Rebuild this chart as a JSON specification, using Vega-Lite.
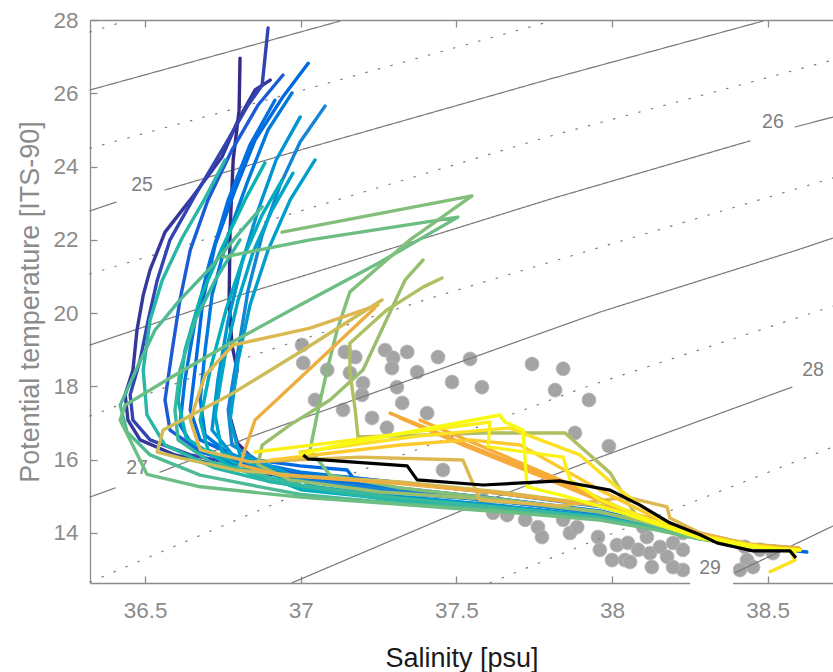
{
"$schema":"https://vega.github.io/schema/vega-lite/v6.json",
"width":743,"height":563,
"autosize":{"type":"none"},
"padding":{"left":90,"top":20,"right":0,"bottom":89},
"background":"white",
"config":{"view":{"stroke":null},
"axis":{"grid":false,"domainColor":"#8c8c8c","tickColor":"#8c8c8c","labelColor":"#8c8c8c","titleColor":"#8c8c8c","labelFont":"Liberation Sans","titleFont":"Liberation Sans","labelFontSize":22.5,"titleFontSize":27,"titleFontWeight":"normal","tickSize":-7,"domainWidth":1.3,"tickWidth":1.3}},
"resolve":{"axis":{"x":"independent","y":"independent"}},
"datasets":{
"dots":[{"S":37.004,"T":19.13},{"S":37.008,"T":18.64},{"S":37.085,"T":18.45},{"S":37.046,"T":17.63},{"S":37.142,"T":18.94},{"S":37.175,"T":18.8},{"S":37.158,"T":18.37},{"S":37.2,"T":18.09},{"S":37.197,"T":17.77},{"S":37.136,"T":17.36},{"S":37.271,"T":18.99},{"S":37.297,"T":18.78},{"S":37.342,"T":18.94},{"S":37.293,"T":18.5},{"S":37.309,"T":17.98},{"S":37.374,"T":18.39},{"S":37.326,"T":17.55},{"S":37.229,"T":17.14},{"S":37.406,"T":17.27},{"S":37.277,"T":16.87},{"S":37.441,"T":18.8},{"S":37.544,"T":18.75},{"S":37.486,"T":18.12},{"S":37.582,"T":17.98},{"S":37.743,"T":18.61},{"S":37.843,"T":18.48},{"S":37.817,"T":17.9},{"S":37.926,"T":17.63},{"S":37.881,"T":16.73},{"S":37.99,"T":16.37},{"S":37.457,"T":15.72},{"S":37.618,"T":14.55},{"S":37.663,"T":14.49},{"S":37.721,"T":14.36},{"S":37.762,"T":14.16},{"S":37.775,"T":13.89},{"S":37.843,"T":14.36},{"S":37.865,"T":14.0},{"S":37.888,"T":14.16},{"S":37.955,"T":13.89},{"S":37.961,"T":13.54},{"S":38.016,"T":13.67},{"S":38.051,"T":13.73},{"S":38.042,"T":13.26},{"S":38.084,"T":13.54},{"S":38.112,"T":13.89},{"S":38.122,"T":13.45},{"S":38.154,"T":13.62},{"S":38.177,"T":13.35},{"S":38.196,"T":13.73},{"S":38.228,"T":14.0},{"S":38.228,"T":13.54},{"S":38.228,"T":12.99},{"S":38.196,"T":13.07},{"S":38.128,"T":13.07},{"S":38.058,"T":13.21},{"S":38.1,"T":14.16},{"S":38.427,"T":13.62},{"S":38.434,"T":13.26},{"S":38.475,"T":13.54},{"S":38.517,"T":13.45},{"S":38.453,"T":13.07},{"S":37.586,"T":14.9},{"S":38.0,"T":13.26},{"S":38.411,"T":12.99}],
"iso":[
{"id":"s23.5","k":"dot","S":36.323,"T":27.67},{"id":"s23.5","k":"dot","S":36.436,"T":27.97},
{"id":"s24","k":"solid","S":36.323,"T":26.09},{"id":"s24","k":"solid","S":36.998,"T":27.67},{"id":"s24","k":"solid","S":37.126,"T":27.97},
{"id":"s24.5","k":"dot","S":36.323,"T":24.5},{"id":"s24.5","k":"dot","S":37.008,"T":26.09},{"id":"s24.5","k":"dot","S":37.791,"T":27.94},
{"id":"s25a","k":"solid","S":36.323,"T":22.79},{"id":"s25a","k":"solid","S":36.407,"T":23.03},
{"id":"s25b","k":"solid","S":36.564,"T":23.36},{"id":"s25b","k":"solid","S":36.998,"T":24.45},{"id":"s25b","k":"solid","S":37.801,"T":26.39},{"id":"s25b","k":"solid","S":38.485,"T":27.97},
{"id":"s25.5","k":"dot","S":36.323,"T":21.07},{"id":"s25.5","k":"dot","S":37.008,"T":22.81},{"id":"s25.5","k":"dot","S":37.801,"T":24.83},{"id":"s25.5","k":"dot","S":38.71,"T":26.91},
{"id":"s26a","k":"solid","S":36.323,"T":19.13},{"id":"s26a","k":"solid","S":36.773,"T":20.41},{"id":"s26a","k":"solid","S":36.998,"T":20.99},{"id":"s26a","k":"solid","S":37.801,"T":23.11},{"id":"s26a","k":"solid","S":38.443,"T":24.7},
{"id":"s26b","k":"solid","S":38.588,"T":25.08},{"id":"s26b","k":"solid","S":38.71,"T":25.35},
{"id":"s26.5","k":"dot","S":36.323,"T":17.19},{"id":"s26.5","k":"dot","S":36.773,"T":18.64},{"id":"s26.5","k":"dot","S":36.998,"T":19.27},{"id":"s26.5","k":"dot","S":37.448,"T":20.49},{"id":"s26.5","k":"dot","S":37.801,"T":21.39},{"id":"s26.5","k":"dot","S":38.71,"T":23.69},
{"id":"s27a","k":"solid","S":36.323,"T":14.98},{"id":"s27a","k":"solid","S":36.404,"T":15.23},
{"id":"s27b","k":"solid","S":36.548,"T":15.66},{"id":"s27b","k":"solid","S":36.837,"T":16.62},{"id":"s27b","k":"solid","S":37.962,"T":20.03},{"id":"s27b","k":"solid","S":38.594,"T":21.72},{"id":"s27b","k":"solid","S":38.71,"T":22.05},
{"id":"s27.5","k":"dot","S":36.323,"T":12.66},{"id":"s27.5","k":"dot","S":36.998,"T":15.09},{"id":"s27.5","k":"dot","S":37.907,"T":17.96},{"id":"s27.5","k":"dot","S":38.71,"T":20.19},
{"id":"s28","k":"solid","S":36.972,"T":12.64},{"id":"s28","k":"solid","S":37.522,"T":14.63},{"id":"s28","k":"solid","S":37.962,"T":16.07},{"id":"s28","k":"solid","S":38.578,"T":17.98},
{"id":"s28.5","k":"dot","S":37.608,"T":12.64},{"id":"s28.5","k":"dot","S":37.907,"T":13.67},{"id":"s28.5","k":"dot","S":38.71,"T":16.35},
{"id":"s29","k":"solid","S":38.395,"T":12.91},{"id":"s29","k":"solid","S":38.71,"T":14.19}],
"labs":[{"S":36.49,"T":23.5,"txt":"25"},{"S":38.517,"T":25.21,"txt":"26"},{"S":36.474,"T":15.77,"txt":"27"},{"S":38.646,"T":18.45,"txt":"28"},{"S":38.315,"T":13.05,"txt":"29"}],
"box":[{"S1":38.251,"S2":38.389,"T1":12.45,"T2":14.08}],
"prof":[
{"p":"p01","t":0,"S":36.805,"T":26.96},{"p":"p01","t":0,"S":36.802,"T":25.54},{"p":"p01","t":0,"S":36.783,"T":24.18},{"p":"p01","t":0,"S":36.773,"T":22.27},{"p":"p01","t":0,"S":36.77,"T":20.36},{"p":"p01","t":0,"S":36.779,"T":19.13},{"p":"p01","t":0,"S":36.796,"T":18.45},{"p":"p01","t":0,"S":36.783,"T":17.9},{"p":"p01","t":0,"S":36.773,"T":17.17},{"p":"p01","t":0,"S":36.796,"T":16.46},{"p":"p01","t":0,"S":36.86,"T":15.91},{"p":"p01","t":0,"S":36.966,"T":15.5},{"p":"p01","t":0,"S":37.32,"T":15.2},{"p":"p01","t":0,"S":37.64,"T":14.92},{"p":"p01","t":0,"S":37.96,"T":14.58},{"p":"p01","t":0,"S":38.12,"T":14.28},{"p":"p01","t":0,"S":38.28,"T":13.93},{"p":"p01","t":0,"S":38.44,"T":13.68},{"p":"p01","t":0,"S":38.6,"T":13.57},
{"p":"p02","t":0.03,"S":36.902,"T":26.36},{"p":"p02","t":0.03,"S":36.853,"T":26.09},{"p":"p02","t":0.03,"S":36.799,"T":25.27},{"p":"p02","t":0.03,"S":36.747,"T":24.26},{"p":"p02","t":0.03,"S":36.645,"T":23.09},{"p":"p02","t":0.03,"S":36.564,"T":22.21},{"p":"p02","t":0.03,"S":36.516,"T":21.18},{"p":"p02","t":0.03,"S":36.494,"T":20.49},{"p":"p02","t":0.03,"S":36.474,"T":19.54},{"p":"p02","t":0.03,"S":36.461,"T":18.45},{"p":"p02","t":0.03,"S":36.436,"T":17.77},{"p":"p02","t":0.03,"S":36.445,"T":17.08},{"p":"p02","t":0.03,"S":36.484,"T":16.54},{"p":"p02","t":0.03,"S":36.596,"T":16.13},{"p":"p02","t":0.03,"S":36.773,"T":15.77},{"p":"p02","t":0.03,"S":37.0,"T":15.47},{"p":"p02","t":0.03,"S":37.32,"T":15.18},{"p":"p02","t":0.03,"S":37.64,"T":14.88},{"p":"p02","t":0.03,"S":37.96,"T":14.55},{"p":"p02","t":0.03,"S":38.12,"T":14.26},{"p":"p02","t":0.03,"S":38.28,"T":13.91},{"p":"p02","t":0.03,"S":38.44,"T":13.66},{"p":"p02","t":0.03,"S":38.6,"T":13.55},
{"p":"p03","t":0.06,"S":36.895,"T":27.78},{"p":"p03","t":0.06,"S":36.876,"T":26.22},{"p":"p03","t":0.06,"S":36.831,"T":25.68},{"p":"p03","t":0.06,"S":36.757,"T":24.59},{"p":"p03","t":0.06,"S":36.661,"T":23.22},{"p":"p03","t":0.06,"S":36.58,"T":22.0},{"p":"p03","t":0.06,"S":36.539,"T":20.9},{"p":"p03","t":0.06,"S":36.51,"T":19.81},{"p":"p03","t":0.06,"S":36.484,"T":18.72},{"p":"p03","t":0.06,"S":36.452,"T":17.77},{"p":"p03","t":0.06,"S":36.461,"T":17.08},{"p":"p03","t":0.06,"S":36.516,"T":16.54},{"p":"p03","t":0.06,"S":36.645,"T":16.13},{"p":"p03","t":0.06,"S":36.805,"T":15.86},{"p":"p03","t":0.06,"S":37.0,"T":15.64},{"p":"p03","t":0.06,"S":37.32,"T":15.37},{"p":"p03","t":0.06,"S":37.64,"T":15.1},{"p":"p03","t":0.06,"S":37.96,"T":14.74},{"p":"p03","t":0.06,"S":38.12,"T":14.4},{"p":"p03","t":0.06,"S":38.28,"T":13.99},{"p":"p03","t":0.06,"S":38.44,"T":13.69},{"p":"p03","t":0.06,"S":38.6,"T":13.58},
{"p":"p04","t":0.11,"S":36.943,"T":26.5},{"p":"p04","t":0.11,"S":36.863,"T":25.68},{"p":"p04","t":0.11,"S":36.779,"T":24.45},{"p":"p04","t":0.11,"S":36.702,"T":23.09},{"p":"p04","t":0.11,"S":36.645,"T":21.72},{"p":"p04","t":0.11,"S":36.612,"T":20.36},{"p":"p04","t":0.11,"S":36.587,"T":18.99},{"p":"p04","t":0.11,"S":36.564,"T":17.63},{"p":"p04","t":0.11,"S":36.58,"T":16.81},{"p":"p04","t":0.11,"S":36.661,"T":16.32},{"p":"p04","t":0.11,"S":36.805,"T":15.94},{"p":"p04","t":0.11,"S":36.966,"T":15.66},{"p":"p04","t":0.11,"S":37.32,"T":15.14},{"p":"p04","t":0.11,"S":37.64,"T":14.86},{"p":"p04","t":0.11,"S":37.96,"T":14.55},{"p":"p04","t":0.11,"S":38.12,"T":14.25},{"p":"p04","t":0.11,"S":38.28,"T":13.9},{"p":"p04","t":0.11,"S":38.44,"T":13.66},{"p":"p04","t":0.11,"S":38.6,"T":13.55},
{"p":"p05","t":0.14,"S":37.024,"T":26.82},{"p":"p05","t":0.14,"S":36.94,"T":25.87},{"p":"p05","t":0.14,"S":36.853,"T":24.72},{"p":"p05","t":0.14,"S":36.789,"T":23.36},{"p":"p05","t":0.14,"S":36.725,"T":21.86},{"p":"p05","t":0.14,"S":36.686,"T":20.36},{"p":"p05","t":0.14,"S":36.664,"T":18.72},{"p":"p05","t":0.14,"S":36.645,"T":17.36},{"p":"p05","t":0.14,"S":36.677,"T":16.54},{"p":"p05","t":0.14,"S":36.805,"T":16.05},{"p":"p05","t":0.14,"S":36.998,"T":15.83},{"p":"p05","t":0.14,"S":37.149,"T":15.72},{"p":"p05","t":0.14,"S":37.191,"T":15.26},{"p":"p05","t":0.14,"S":37.383,"T":15.04},{"p":"p05","t":0.14,"S":37.64,"T":14.88},{"p":"p05","t":0.14,"S":37.96,"T":14.55},{"p":"p05","t":0.14,"S":38.12,"T":14.25},{"p":"p05","t":0.14,"S":38.28,"T":13.9},{"p":"p05","t":0.14,"S":38.44,"T":13.66},{"p":"p05","t":0.14,"S":38.626,"T":13.48},
{"p":"p06","t":0.17,"S":36.917,"T":25.81},{"p":"p06","t":0.17,"S":36.837,"T":24.59},{"p":"p06","t":0.17,"S":36.767,"T":23.09},{"p":"p06","t":0.17,"S":36.709,"T":21.45},{"p":"p06","t":0.17,"S":36.661,"T":19.81},{"p":"p06","t":0.17,"S":36.628,"T":18.18},{"p":"p06","t":0.17,"S":36.612,"T":16.95},{"p":"p06","t":0.17,"S":36.661,"T":16.27},{"p":"p06","t":0.17,"S":36.805,"T":15.86},{"p":"p06","t":0.17,"S":37.0,"T":15.5},{"p":"p06","t":0.17,"S":37.32,"T":15.22},{"p":"p06","t":0.17,"S":37.64,"T":14.93},{"p":"p06","t":0.17,"S":37.96,"T":14.6},{"p":"p06","t":0.17,"S":38.12,"T":14.29},{"p":"p06","t":0.17,"S":38.28,"T":13.94},{"p":"p06","t":0.17,"S":38.44,"T":13.68},{"p":"p06","t":0.17,"S":38.6,"T":13.57},
{"p":"p07","t":0.2,"S":36.972,"T":26.01},{"p":"p07","t":0.2,"S":36.895,"T":25.0},{"p":"p07","t":0.2,"S":36.831,"T":23.63},{"p":"p07","t":0.2,"S":36.767,"T":22.13},{"p":"p07","t":0.2,"S":36.715,"T":20.49},{"p":"p07","t":0.2,"S":36.693,"T":18.99},{"p":"p07","t":0.2,"S":36.677,"T":17.63},{"p":"p07","t":0.2,"S":36.693,"T":16.67},{"p":"p07","t":0.2,"S":36.773,"T":16.13},{"p":"p07","t":0.2,"S":36.902,"T":15.83},{"p":"p07","t":0.2,"S":37.0,"T":15.66},{"p":"p07","t":0.2,"S":37.32,"T":15.37},{"p":"p07","t":0.2,"S":37.64,"T":15.08},{"p":"p07","t":0.2,"S":37.96,"T":14.72},{"p":"p07","t":0.2,"S":38.12,"T":14.38},{"p":"p07","t":0.2,"S":38.28,"T":13.98},{"p":"p07","t":0.2,"S":38.44,"T":13.69},{"p":"p07","t":0.2,"S":38.6,"T":13.58},
{"p":"p08","t":0.25,"S":37.078,"T":25.65},{"p":"p08","t":0.25,"S":36.998,"T":24.67},{"p":"p08","t":0.25,"S":36.934,"T":23.5},{"p":"p08","t":0.25,"S":36.876,"T":22.13},{"p":"p08","t":0.25,"S":36.831,"T":20.63},{"p":"p08","t":0.25,"S":36.799,"T":18.99},{"p":"p08","t":0.25,"S":36.767,"T":17.36},{"p":"p08","t":0.25,"S":36.779,"T":16.4},{"p":"p08","t":0.25,"S":36.876,"T":15.91},{"p":"p08","t":0.25,"S":36.998,"T":15.45},{"p":"p08","t":0.25,"S":37.32,"T":15.15},{"p":"p08","t":0.25,"S":37.64,"T":14.87},{"p":"p08","t":0.25,"S":37.96,"T":14.54},{"p":"p08","t":0.25,"S":38.12,"T":14.24},{"p":"p08","t":0.25,"S":38.28,"T":13.9},{"p":"p08","t":0.25,"S":38.44,"T":13.66},{"p":"p08","t":0.25,"S":38.6,"T":13.55},
{"p":"p09","t":0.3,"S":36.998,"T":25.35},{"p":"p09","t":0.3,"S":36.921,"T":24.18},{"p":"p09","t":0.3,"S":36.863,"T":22.81},{"p":"p09","t":0.3,"S":36.812,"T":21.39},{"p":"p09","t":0.3,"S":36.767,"T":19.81},{"p":"p09","t":0.3,"S":36.734,"T":18.18},{"p":"p09","t":0.3,"S":36.715,"T":16.81},{"p":"p09","t":0.3,"S":36.789,"T":16.05},{"p":"p09","t":0.3,"S":36.902,"T":15.72},{"p":"p09","t":0.3,"S":37.0,"T":15.3},{"p":"p09","t":0.3,"S":37.32,"T":15.0},{"p":"p09","t":0.3,"S":37.64,"T":14.75},{"p":"p09","t":0.3,"S":37.96,"T":14.46},{"p":"p09","t":0.3,"S":38.12,"T":14.2},{"p":"p09","t":0.3,"S":38.28,"T":13.88},{"p":"p09","t":0.3,"S":38.44,"T":13.65},{"p":"p09","t":0.3,"S":38.6,"T":13.54},
{"p":"p10","t":0.34,"S":37.046,"T":24.18},{"p":"p10","t":0.34,"S":36.966,"T":23.09},{"p":"p10","t":0.34,"S":36.895,"T":21.72},{"p":"p10","t":0.34,"S":36.837,"T":20.22},{"p":"p10","t":0.34,"S":36.799,"T":18.72},{"p":"p10","t":0.34,"S":36.773,"T":17.08},{"p":"p10","t":0.34,"S":36.805,"T":16.13},{"p":"p10","t":0.34,"S":36.934,"T":15.72},{"p":"p10","t":0.34,"S":37.05,"T":15.25},{"p":"p10","t":0.34,"S":37.32,"T":14.96},{"p":"p10","t":0.34,"S":37.64,"T":14.72},{"p":"p10","t":0.34,"S":37.96,"T":14.44},{"p":"p10","t":0.34,"S":38.12,"T":14.18},{"p":"p10","t":0.34,"S":38.28,"T":13.87},{"p":"p10","t":0.34,"S":38.44,"T":13.65},{"p":"p10","t":0.34,"S":38.6,"T":13.54},
{"p":"p11","t":0.37,"S":36.975,"T":23.82},{"p":"p11","t":0.37,"S":36.908,"T":22.81},{"p":"p11","t":0.37,"S":36.847,"T":21.67},{"p":"p11","t":0.37,"S":36.799,"T":20.36},{"p":"p11","t":0.37,"S":36.757,"T":18.86},{"p":"p11","t":0.37,"S":36.725,"T":17.22},{"p":"p11","t":0.37,"S":36.747,"T":16.21},{"p":"p11","t":0.37,"S":36.876,"T":15.77},{"p":"p11","t":0.37,"S":37.0,"T":15.2},{"p":"p11","t":0.37,"S":37.32,"T":14.92},{"p":"p11","t":0.37,"S":37.64,"T":14.7},{"p":"p11","t":0.37,"S":37.96,"T":14.42},{"p":"p11","t":0.37,"S":38.12,"T":14.17},{"p":"p11","t":0.37,"S":38.28,"T":13.87},{"p":"p11","t":0.37,"S":38.44,"T":13.65},{"p":"p11","t":0.37,"S":38.6,"T":13.54},
{"p":"p12","t":0.41,"S":36.94,"T":23.63},{"p":"p12","t":0.41,"S":36.876,"T":22.68},{"p":"p12","t":0.41,"S":36.815,"T":21.5},{"p":"p12","t":0.41,"S":36.76,"T":20.09},{"p":"p12","t":0.41,"S":36.709,"T":18.45},{"p":"p12","t":0.41,"S":36.677,"T":17.08},{"p":"p12","t":0.41,"S":36.702,"T":16.27},{"p":"p12","t":0.41,"S":36.837,"T":15.72},{"p":"p12","t":0.41,"S":37.0,"T":15.18},{"p":"p12","t":0.41,"S":37.32,"T":14.9},{"p":"p12","t":0.41,"S":37.64,"T":14.68},{"p":"p12","t":0.41,"S":37.96,"T":14.41},{"p":"p12","t":0.41,"S":38.12,"T":14.16},{"p":"p12","t":0.41,"S":38.28,"T":13.86},{"p":"p12","t":0.41,"S":38.44,"T":13.64},{"p":"p12","t":0.41,"S":38.6,"T":13.53},
{"p":"p13","t":0.45,"S":36.885,"T":24.1},{"p":"p13","t":0.45,"S":36.821,"T":23.09},{"p":"p13","t":0.45,"S":36.747,"T":21.78},{"p":"p13","t":0.45,"S":36.677,"T":20.41},{"p":"p13","t":0.45,"S":36.628,"T":18.99},{"p":"p13","t":0.45,"S":36.606,"T":17.63},{"p":"p13","t":0.45,"S":36.632,"T":16.59},{"p":"p13","t":0.45,"S":36.757,"T":15.91},{"p":"p13","t":0.45,"S":36.9,"T":15.4},{"p":"p13","t":0.45,"S":37.32,"T":14.88},{"p":"p13","t":0.45,"S":37.64,"T":14.66},{"p":"p13","t":0.45,"S":37.96,"T":14.4},{"p":"p13","t":0.45,"S":38.12,"T":14.15},{"p":"p13","t":0.45,"S":38.28,"T":13.85},{"p":"p13","t":0.45,"S":38.44,"T":13.64},{"p":"p13","t":0.45,"S":38.6,"T":13.53},
{"p":"p14","t":0.48,"S":36.757,"T":24.18},{"p":"p14","t":0.48,"S":36.693,"T":23.14},{"p":"p14","t":0.48,"S":36.619,"T":22.05},{"p":"p14","t":0.48,"S":36.555,"T":20.9},{"p":"p14","t":0.48,"S":36.516,"T":19.81},{"p":"p14","t":0.48,"S":36.494,"T":18.45},{"p":"p14","t":0.48,"S":36.506,"T":17.22},{"p":"p14","t":0.48,"S":36.564,"T":16.4},{"p":"p14","t":0.48,"S":36.725,"T":15.77},{"p":"p14","t":0.48,"S":36.902,"T":15.4},{"p":"p14","t":0.48,"S":37.32,"T":14.85},{"p":"p14","t":0.48,"S":37.64,"T":14.64},{"p":"p14","t":0.48,"S":37.96,"T":14.39},{"p":"p14","t":0.48,"S":38.12,"T":14.15},{"p":"p14","t":0.48,"S":38.28,"T":13.85},{"p":"p14","t":0.48,"S":38.44,"T":13.64},{"p":"p14","t":0.48,"S":38.6,"T":13.53},
{"p":"p15","t":0.5,"S":36.805,"T":22.0},{"p":"p15","t":0.5,"S":36.725,"T":20.9},{"p":"p15","t":0.5,"S":36.661,"T":19.81},{"p":"p15","t":0.5,"S":36.612,"T":18.45},{"p":"p15","t":0.5,"S":36.596,"T":17.36},{"p":"p15","t":0.5,"S":36.606,"T":16.54},{"p":"p15","t":0.5,"S":36.709,"T":15.94},{"p":"p15","t":0.5,"S":36.869,"T":15.58},{"p":"p15","t":0.5,"S":37.0,"T":15.3},{"p":"p15","t":0.5,"S":37.32,"T":14.95},{"p":"p15","t":0.5,"S":37.64,"T":14.7},{"p":"p15","t":0.5,"S":37.96,"T":14.43},{"p":"p15","t":0.5,"S":38.12,"T":14.17},{"p":"p15","t":0.5,"S":38.28,"T":13.87},{"p":"p15","t":0.5,"S":38.44,"T":13.65},{"p":"p15","t":0.5,"S":38.6,"T":13.54},
{"p":"p16","t":0.53,"S":36.876,"T":22.9},{"p":"p16","t":0.53,"S":36.805,"T":22.21},{"p":"p16","t":0.53,"S":36.709,"T":21.23},{"p":"p16","t":0.53,"S":36.612,"T":20.36},{"p":"p16","t":0.53,"S":36.532,"T":19.54},{"p":"p16","t":0.53,"S":36.478,"T":18.58},{"p":"p16","t":0.53,"S":36.42,"T":17.49},{"p":"p16","t":0.53,"S":36.442,"T":16.76},{"p":"p16","t":0.53,"S":36.516,"T":16.13},{"p":"p16","t":0.53,"S":36.677,"T":15.58},{"p":"p16","t":0.53,"S":36.869,"T":15.26},{"p":"p16","t":0.53,"S":37.0,"T":15.05},{"p":"p16","t":0.53,"S":37.32,"T":14.8},{"p":"p16","t":0.53,"S":37.64,"T":14.62},{"p":"p16","t":0.53,"S":37.96,"T":14.37},{"p":"p16","t":0.53,"S":38.12,"T":14.14},{"p":"p16","t":0.53,"S":38.28,"T":13.85},{"p":"p16","t":0.53,"S":38.44,"T":13.64},{"p":"p16","t":0.53,"S":38.6,"T":13.53},
{"p":"p17","t":0.57,"S":36.751,"T":21.53},{"p":"p17","t":0.57,"S":37.03,"T":22.0},{"p":"p17","t":0.57,"S":37.505,"T":22.62},{"p":"p17","t":0.57,"S":37.255,"T":21.39},{"p":"p17","t":0.57,"S":36.998,"T":20.22},{"p":"p17","t":0.57,"S":36.773,"T":19.18},{"p":"p17","t":0.57,"S":36.58,"T":18.23},{"p":"p17","t":0.57,"S":36.436,"T":17.49},{"p":"p17","t":0.57,"S":36.42,"T":17.08},{"p":"p17","t":0.57,"S":36.452,"T":16.54},{"p":"p17","t":0.57,"S":36.506,"T":15.6},{"p":"p17","t":0.57,"S":36.677,"T":15.26},{"p":"p17","t":0.57,"S":36.998,"T":14.98},{"p":"p17","t":0.57,"S":37.32,"T":14.78},{"p":"p17","t":0.57,"S":37.64,"T":14.58},{"p":"p17","t":0.57,"S":37.96,"T":14.35},{"p":"p17","t":0.57,"S":38.12,"T":14.12},{"p":"p17","t":0.57,"S":38.28,"T":13.84},{"p":"p17","t":0.57,"S":38.44,"T":13.63},{"p":"p17","t":0.57,"S":38.6,"T":13.53},
{"p":"p18","t":0.6,"S":36.94,"T":22.21},{"p":"p18","t":0.6,"S":37.55,"T":23.2},{"p":"p18","t":0.6,"S":37.351,"T":22.0},{"p":"p18","t":0.6,"S":37.158,"T":20.58},{"p":"p18","t":0.6,"S":37.117,"T":19.54},{"p":"p18","t":0.6,"S":37.085,"T":18.45},{"p":"p18","t":0.6,"S":37.056,"T":17.36},{"p":"p18","t":0.6,"S":37.03,"T":16.27},{"p":"p18","t":0.6,"S":37.094,"T":15.58},{"p":"p18","t":0.6,"S":37.319,"T":15.23},{"p":"p18","t":0.6,"S":37.64,"T":14.92},{"p":"p18","t":0.6,"S":37.96,"T":14.58},{"p":"p18","t":0.6,"S":38.12,"T":14.27},{"p":"p18","t":0.6,"S":38.28,"T":13.91},{"p":"p18","t":0.6,"S":38.44,"T":13.67},{"p":"p18","t":0.6,"S":38.6,"T":13.56},
{"p":"p19","t":0.64,"S":37.393,"T":21.45},{"p":"p19","t":0.64,"S":37.335,"T":20.9},{"p":"p19","t":0.64,"S":37.2,"T":18.45},{"p":"p19","t":0.64,"S":37.094,"T":17.63},{"p":"p19","t":0.64,"S":36.966,"T":16.95},{"p":"p19","t":0.64,"S":36.876,"T":16.4},{"p":"p19","t":0.64,"S":36.863,"T":15.86},{"p":"p19","t":0.64,"S":36.966,"T":15.45},{"p":"p19","t":0.64,"S":37.255,"T":15.12},{"p":"p19","t":0.64,"S":37.64,"T":14.9},{"p":"p19","t":0.64,"S":37.96,"T":14.57},{"p":"p19","t":0.64,"S":38.12,"T":14.27},{"p":"p19","t":0.64,"S":38.28,"T":13.92},{"p":"p19","t":0.64,"S":38.44,"T":13.67},{"p":"p19","t":0.64,"S":38.6,"T":13.56},
{"p":"p20","t":0.68,"S":37.454,"T":20.96},{"p":"p20","t":0.68,"S":37.393,"T":20.71},{"p":"p20","t":0.68,"S":37.277,"T":20.09},{"p":"p20","t":0.68,"S":37.158,"T":19.18},{"p":"p20","t":0.68,"S":37.158,"T":18.39},{"p":"p20","t":0.68,"S":37.175,"T":17.36},{"p":"p20","t":0.68,"S":37.184,"T":16.62},{"p":"p20","t":0.68,"S":37.383,"T":16.67},{"p":"p20","t":0.68,"S":37.586,"T":16.73},{"p":"p20","t":0.68,"S":37.849,"T":16.73},{"p":"p20","t":0.68,"S":37.994,"T":15.64},{"p":"p20","t":0.68,"S":38.08,"T":14.44},{"p":"p20","t":0.68,"S":38.283,"T":13.89},{"p":"p20","t":0.68,"S":38.443,"T":13.65},{"p":"p20","t":0.68,"S":38.604,"T":13.54},
{"p":"p21","t":0.73,"S":37.261,"T":20.36},{"p":"p21","t":0.73,"S":36.998,"T":18.94},{"p":"p21","t":0.73,"S":36.773,"T":17.77},{"p":"p21","t":0.73,"S":36.558,"T":16.81},{"p":"p21","t":0.73,"S":36.539,"T":16.21},{"p":"p21","t":0.73,"S":36.612,"T":16.05},{"p":"p21","t":0.73,"S":36.789,"T":15.72},{"p":"p21","t":0.73,"S":36.998,"T":15.56},{"p":"p21","t":0.73,"S":37.32,"T":15.39},{"p":"p21","t":0.73,"S":37.64,"T":15.12},{"p":"p21","t":0.73,"S":37.96,"T":14.76},{"p":"p21","t":0.73,"S":38.12,"T":14.41},{"p":"p21","t":0.73,"S":38.28,"T":14.0},{"p":"p21","t":0.73,"S":38.44,"T":13.7},{"p":"p21","t":0.73,"S":38.6,"T":13.59},
{"p":"p22","t":0.76,"S":37.248,"T":20.22},{"p":"p22","t":0.76,"S":37.03,"T":19.59},{"p":"p22","t":0.76,"S":36.783,"T":19.13},{"p":"p22","t":0.76,"S":36.693,"T":18.31},{"p":"p22","t":0.76,"S":36.645,"T":17.08},{"p":"p22","t":0.76,"S":36.677,"T":16.27},{"p":"p22","t":0.76,"S":36.837,"T":15.94},{"p":"p22","t":0.76,"S":37.191,"T":16.07},{"p":"p22","t":0.76,"S":37.521,"T":15.99},{"p":"p22","t":0.76,"S":37.576,"T":14.9},{"p":"p22","t":0.76,"S":37.833,"T":14.74},{"p":"p22","t":0.76,"S":38.048,"T":14.98},{"p":"p22","t":0.76,"S":38.177,"T":14.71},{"p":"p22","t":0.76,"S":38.186,"T":14.41},{"p":"p22","t":0.76,"S":38.283,"T":14.0},{"p":"p22","t":0.76,"S":38.443,"T":13.67},{"p":"p22","t":0.76,"S":38.604,"T":13.56},
{"p":"p23","t":0.8,"S":37.238,"T":20.14},{"p":"p23","t":0.8,"S":36.998,"T":18.23},{"p":"p23","t":0.8,"S":36.853,"T":17.08},{"p":"p23","t":0.8,"S":36.805,"T":15.86},{"p":"p23","t":0.8,"S":36.934,"T":15.58},{"p":"p23","t":0.8,"S":37.32,"T":15.35},{"p":"p23","t":0.8,"S":37.64,"T":15.08},{"p":"p23","t":0.8,"S":37.96,"T":14.74},{"p":"p23","t":0.8,"S":38.12,"T":14.39},{"p":"p23","t":0.8,"S":38.28,"T":13.99},{"p":"p23","t":0.8,"S":38.44,"T":13.69},{"p":"p23","t":0.8,"S":38.6,"T":13.58},
{"p":"p24","t":0.82,"S":37.287,"T":17.27},{"p":"p24","t":0.82,"S":37.512,"T":16.48},{"p":"p24","t":0.82,"S":37.737,"T":15.72},{"p":"p24","t":0.82,"S":37.962,"T":14.9},{"p":"p24","t":0.82,"S":38.122,"T":14.3},{"p":"p24","t":0.82,"S":38.283,"T":13.89},{"p":"p24","t":0.82,"S":38.443,"T":13.65},{"p":"p24","t":0.82,"S":38.604,"T":13.54},
{"p":"p25","t":0.825,"S":37.319,"T":17.14},{"p":"p25","t":0.825,"S":37.544,"T":16.32},{"p":"p25","t":0.825,"S":37.769,"T":15.56},{"p":"p25","t":0.825,"S":37.994,"T":14.76},{"p":"p25","t":0.825,"S":38.154,"T":14.22},{"p":"p25","t":0.825,"S":38.283,"T":13.92},{"p":"p25","t":0.825,"S":38.443,"T":13.66},{"p":"p25","t":0.825,"S":38.604,"T":13.55},
{"p":"p26","t":0.83,"S":37.383,"T":17.08},{"p":"p26","t":0.83,"S":37.608,"T":16.27},{"p":"p26","t":0.83,"S":37.833,"T":15.45},{"p":"p26","t":0.83,"S":38.026,"T":14.68},{"p":"p26","t":0.83,"S":38.186,"T":14.16},{"p":"p26","t":0.83,"S":38.3,"T":13.9},{"p":"p26","t":0.83,"S":38.443,"T":13.67},{"p":"p26","t":0.83,"S":38.604,"T":13.56},
{"p":"p27","t":0.88,"S":36.902,"T":15.99},{"p":"p27","t":0.88,"S":37.319,"T":16.4},{"p":"p27","t":0.88,"S":37.544,"T":16.54},{"p":"p27","t":0.88,"S":37.705,"T":16.4},{"p":"p27","t":0.88,"S":37.962,"T":15.17},{"p":"p27","t":0.88,"S":38.122,"T":14.49},{"p":"p27","t":0.88,"S":38.283,"T":13.95},{"p":"p27","t":0.88,"S":38.475,"T":13.62},{"p":"p27","t":0.88,"S":38.604,"T":13.54},
{"p":"p28","t":0.93,"S":36.998,"T":16.21},{"p":"p28","t":0.93,"S":37.383,"T":16.65},{"p":"p28","t":0.93,"S":37.672,"T":16.87},{"p":"p28","t":0.93,"S":37.769,"T":16.54},{"p":"p28","t":0.93,"S":37.897,"T":16.13},{"p":"p28","t":0.93,"S":38.026,"T":15.17},{"p":"p28","t":0.93,"S":38.154,"T":14.36},{"p":"p28","t":0.93,"S":38.315,"T":13.81},{"p":"p28","t":0.93,"S":38.572,"T":13.54},{"p":"p28","t":0.93,"S":38.588,"T":13.26},{"p":"p28","t":0.93,"S":38.508,"T":12.94},
{"p":"p29","t":0.97,"S":36.853,"T":16.21},{"p":"p29","t":0.97,"S":37.094,"T":16.46},{"p":"p29","t":0.97,"S":37.608,"T":17.03},{"p":"p29","t":0.97,"S":37.602,"T":16.35},{"p":"p29","t":0.97,"S":37.843,"T":16.07},{"p":"p29","t":0.97,"S":37.865,"T":15.45},{"p":"p29","t":0.97,"S":37.962,"T":14.9},{"p":"p29","t":0.97,"S":38.122,"T":14.36},{"p":"p29","t":0.97,"S":38.283,"T":13.92},{"p":"p29","t":0.97,"S":38.475,"T":13.62},{"p":"p29","t":0.97,"S":38.588,"T":13.48},
{"p":"p30","t":1,"S":36.998,"T":16.13},{"p":"p30","t":1,"S":37.094,"T":16.35},{"p":"p30","t":1,"S":37.383,"T":16.81},{"p":"p30","t":1,"S":37.64,"T":17.22},{"p":"p30","t":1,"S":37.656,"T":17.03},{"p":"p30","t":1,"S":37.714,"T":16.81},{"p":"p30","t":1,"S":37.727,"T":15.26},{"p":"p30","t":1,"S":37.833,"T":15.04},{"p":"p30","t":1,"S":38.026,"T":14.57},{"p":"p30","t":1,"S":38.283,"T":13.86},{"p":"p30","t":1,"S":38.443,"T":13.62},{"p":"p30","t":1,"S":38.604,"T":13.54}],
"black":[{"S":37.008,"T":16.13},{"S":37.024,"T":16.02},{"S":37.342,"T":15.83},{"S":37.374,"T":15.45},{"S":37.586,"T":15.31},{"S":37.833,"T":15.42},{"S":37.994,"T":15.17},{"S":38.09,"T":14.76},{"S":38.187,"T":14.27},{"S":38.283,"T":13.95},{"S":38.337,"T":13.73},{"S":38.453,"T":13.51},{"S":38.572,"T":13.51},{"S":38.591,"T":13.32}]
},
"layer":[
{"data":{"name":"dots"},"mark":{"type":"circle","size":195,"color":"#a4a4a4","opacity":1,"stroke":"#b8b8b8","strokeWidth":0.8},
"encoding":{
"x":{"field":"S","type":"quantitative","scale":{"domain":[36.323,38.71],"nice":false,"zero":false},
"axis":{"orient":"bottom","values":[36.5,37,37.5,38,38.5],"format":"~f","labelPadding":23,"title":"Salinity [psu]","titleColor":"#1a1a1a","titleFontSize":27,"titlePadding":24}},
"y":{"field":"T","type":"quantitative","scale":{"domain":[12.635,28],"nice":false,"zero":false},
"axis":{"orient":"left","values":[14,16,18,20,22,24,26,28],"labelPadding":19,"title":"Potential temperature [ITS-90]","titlePadding":8}}}},
{"data":{"name":"iso"},"mark":{"type":"line","color":"#7a7a7a","strokeWidth":1.2,"strokeCap":"round"},
"encoding":{
"x":{"field":"S","type":"quantitative","axis":{"orient":"top","labels":false,"title":null,"values":[36.5,37,37.5,38,38.5]}},
"y":{"field":"T","type":"quantitative","axis":null},
"detail":{"field":"id"},
"strokeDash":{"field":"k","type":"nominal","scale":{"domain":["solid","dot"],"range":[[1,0],[1.5,11.5]]},"legend":null},
"order":{"value":null}}},
{"data":{"name":"box"},"mark":{"type":"rect","color":"white"},
"encoding":{"x":{"field":"S1","type":"quantitative","axis":null},"x2":{"field":"S2"},"y":{"field":"T1","type":"quantitative","axis":null},"y2":{"field":"T2"}}},
{"data":{"name":"labs"},"mark":{"type":"text","font":"Liberation Sans","fontSize":19.5,"color":"#7f7f7f"},
"encoding":{"x":{"field":"S","type":"quantitative","axis":null},"y":{"field":"T","type":"quantitative","axis":null},"text":{"field":"txt"}}},
{"data":{"name":"prof"},"mark":{"type":"line","strokeWidth":3.4,"strokeJoin":"round","strokeCap":"round"},
"encoding":{
"x":{"field":"S","type":"quantitative","axis":null},
"y":{"field":"T","type":"quantitative","axis":null},
"detail":{"field":"p"},
"color":{"field":"t","type":"quantitative","scale":{"domain":[0,0.125,0.25,0.375,0.5,0.625,0.75,0.82,0.9,1],"range":["#352a87","#0363e1","#1485d4","#06a7c6","#38b99e","#92bf73","#d9ba56","#f5a83a","#fcd62a","#f9fb0e"]},"legend":null},
"order":{"value":null}}},
{"data":{"name":"black"},"mark":{"type":"line","color":"black","strokeWidth":3.2,"strokeJoin":"round"},
"encoding":{"x":{"field":"S","type":"quantitative","axis":null},"y":{"field":"T","type":"quantitative","axis":null},"order":{"value":null}}}
]
}
